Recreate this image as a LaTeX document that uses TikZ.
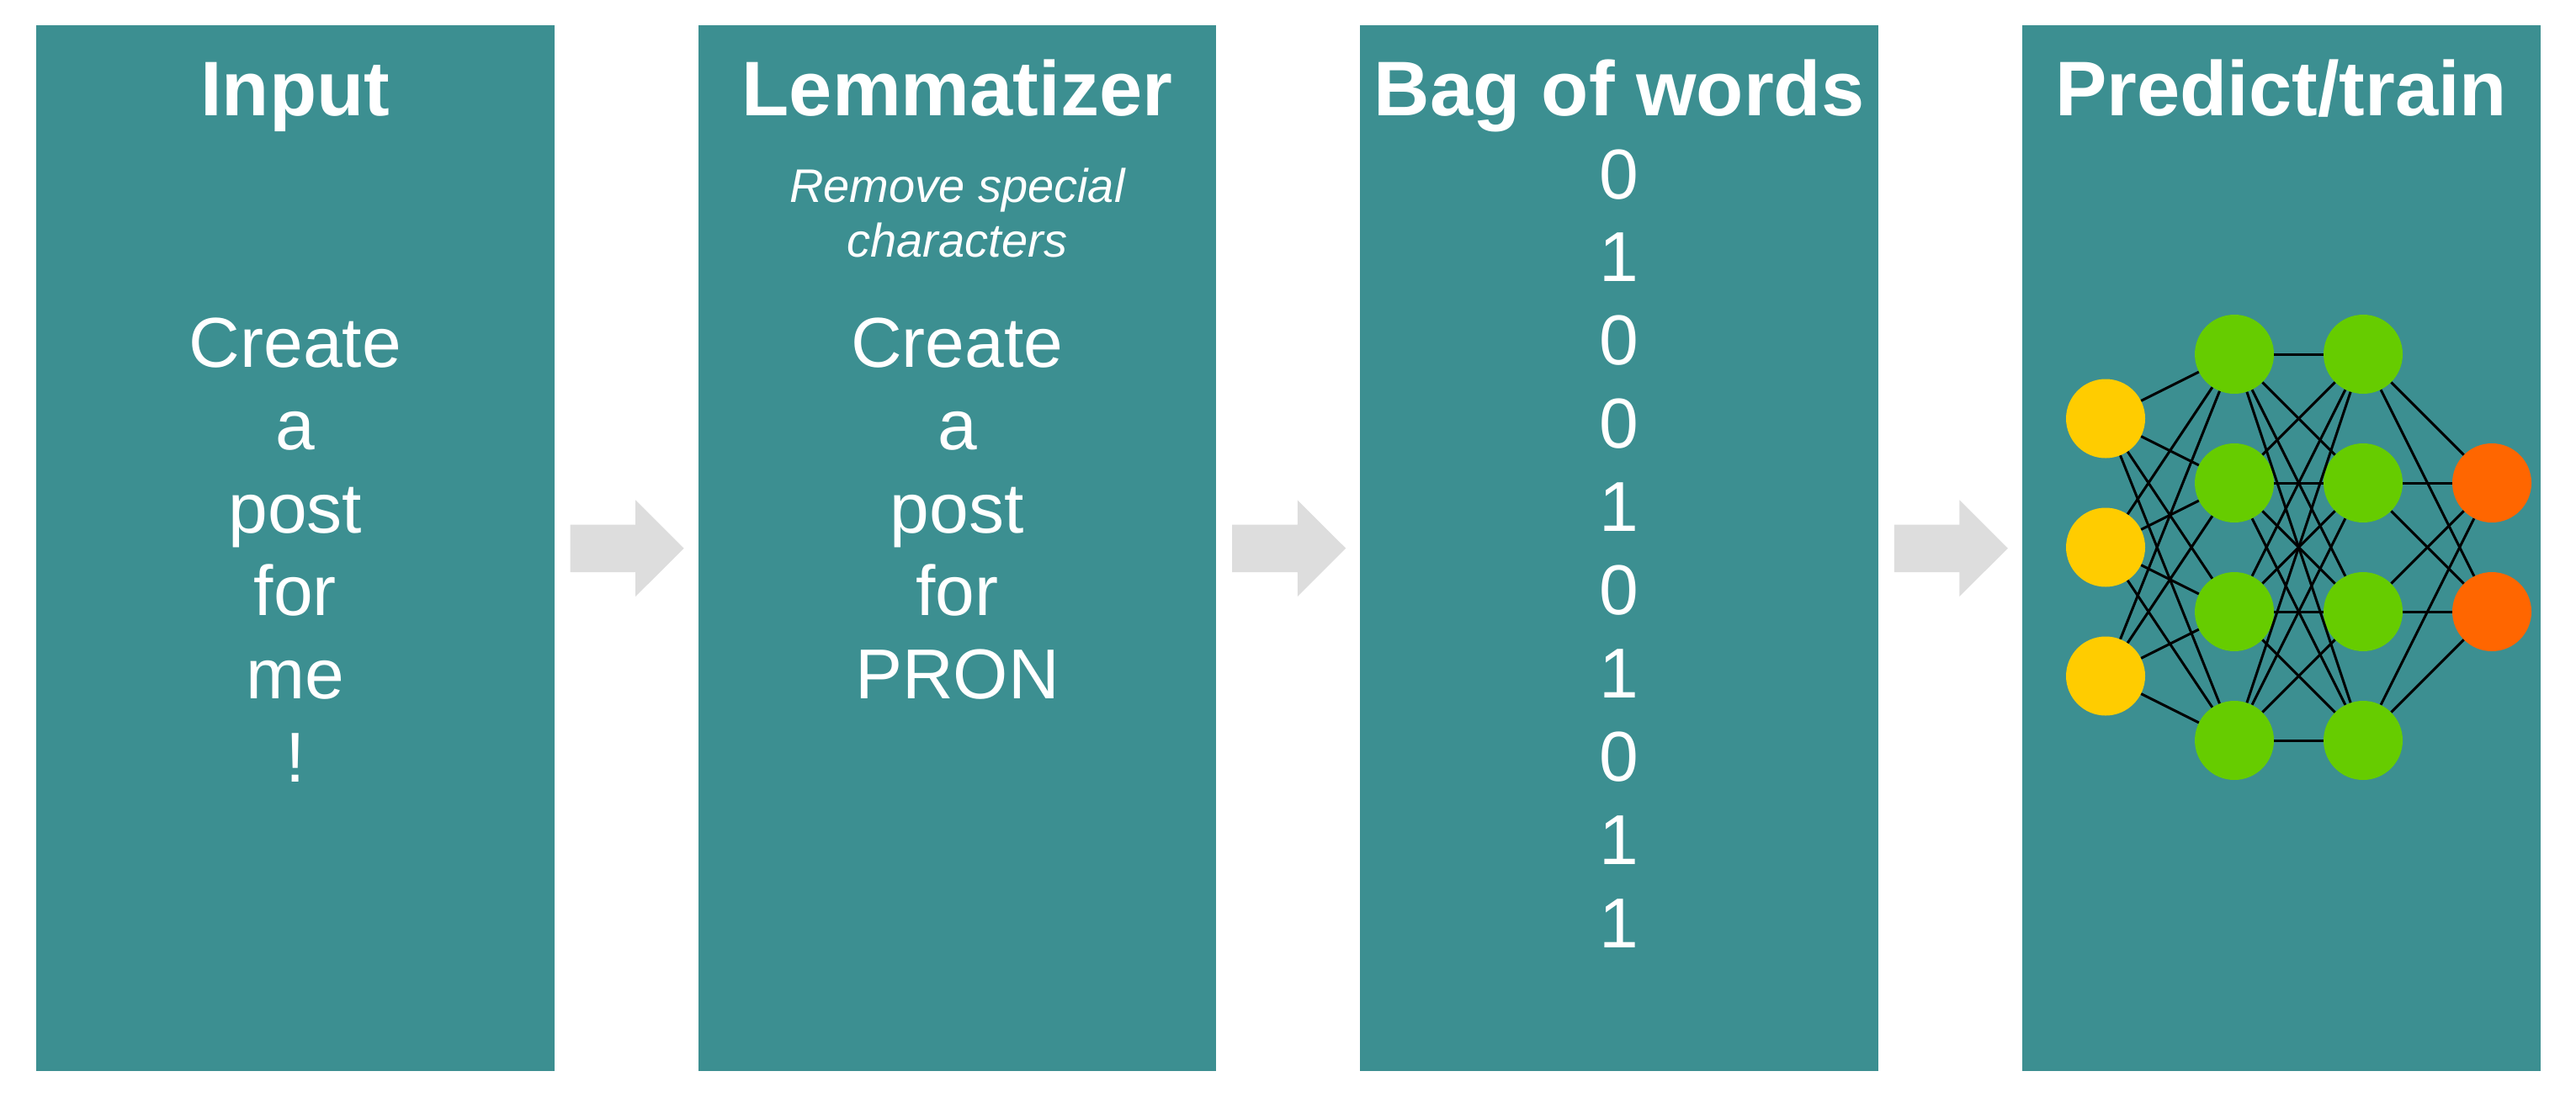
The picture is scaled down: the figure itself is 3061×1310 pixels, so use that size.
\documentclass[tikz,border=0pt]{standalone}
\usepackage{fontspec}
\setmainfont{Liberation Sans}
\definecolor{panelteal}{HTML}{3C8F91}
\definecolor{arrowgrey}{HTML}{DDDDDD}
\definecolor{nodeyellow}{HTML}{FFCC00}
\definecolor{nodegreen}{HTML}{66CC00}
\definecolor{nodeorange}{HTML}{FF6600}
\begin{document}
\begin{tikzpicture}[x=1pt,y=-1pt,
  panel/.style={rectangle, fill=panelteal, draw=none, inner sep=0pt,
    minimum width=615.5pt, minimum height=1243pt, anchor=north west},
  title/.style={text=white, font=\fontsize{92}{100}\selectfont\bfseries,
    anchor=base, inner sep=0pt},
  body/.style={text=white, font=\fontsize{84}{98}\selectfont,
    anchor=base, inner sep=0pt},
  note/.style={text=white, font=\fontsize{56}{65}\selectfont\itshape,
    anchor=base, inner sep=0pt},
  neuron/.style={circle, minimum size=94pt, inner sep=0pt, draw=none},
  link/.style={line width=3pt, black},
  flow/.style={fill=arrowgrey, draw=none}]

\useasboundingbox (0,0) rectangle (3061,1310);

% the four stage panels
\node[panel] (p-input) at (43,30) {};
\node[panel] (p-lemma) at (829.6,30) {};
\node[panel] (p-bow)   at (1616.2,30) {};
\node[panel] (p-net)   at (2402.8,30) {};

% block arrows between neighbouring panels
\foreach \a in {p-input,p-lemma,p-bow}{
  \fill[flow] ([shift={(18.7,-28.2)}]\a.east) -- ([shift={(96.3,-28.2)}]\a.east)
    -- ([shift={(96.3,-57.3)}]\a.east) -- ([shift={(153.7,0)}]\a.east)
    -- ([shift={(96.3,57.3)}]\a.east) -- ([shift={(96.3,28.5)}]\a.east)
    -- ([shift={(18.7,28.5)}]\a.east) -- cycle;
}

% titles
\node[title] (t-input) at (350.75,137.7) {Input};
\node[title] (t-lemma) at (1137.35,137.7) {Lemmatizer};
\node[title] (t-bow)   at (1923.95,137.7) {Bag of words};
\node[title] (t-net)   at (2710.55,137.7) {Predict/train};

% input sentence, one token per line
\foreach \w [count=\k from 0] in {Create,a,post,for,me,!}
  \node[body] (in-\k) at (350.75,436+98.6*\k) {\w};

% lemmatizer note and output
\node[note] (note-1) at (1137.35,240) {Remove special};
\node[note] (note-2) at (1137.35,305) {characters};
\foreach \w [count=\k from 0] in {Create,a,post,for,PRON}
  \node[body] (lem-\k) at (1137.35,436+98.6*\k) {\w};

% bag-of-words vector
\foreach \d [count=\k from 0] in {0,1,0,0,1,0,1,0,1,1}
  \node[body] (bow-\k) at (1923.95,236+98.9*\k) {\d};

% neural network: input, two hidden layers, output
\foreach \k/\y in {1/497.5,2/650.5,3/803.5}
  \node[neuron, fill=nodeyellow] (x\k) at (2502,\y) {};
\foreach \k/\y in {1/421,2/574,3/727,4/880}{
  \node[neuron, fill=nodegreen] (h\k) at (2655,\y) {};
  \node[neuron, fill=nodegreen] (g\k) at (2808,\y) {};
}
\foreach \k/\y in {1/574,2/727}
  \node[neuron, fill=nodeorange] (o\k) at (2961,\y) {};

% fully connected weights
\foreach \i in {1,2,3}
  \foreach \j in {1,2,3,4}
    \draw[link] (x\i) -- (h\j);
\foreach \i in {1,2,3,4}
  \foreach \j in {1,2,3,4}
    \draw[link] (h\i) -- (g\j);
\foreach \i in {1,2,3,4}
  \foreach \j in {1,2}
    \draw[link] (g\i) -- (o\j);
\end{tikzpicture}
\end{document}
